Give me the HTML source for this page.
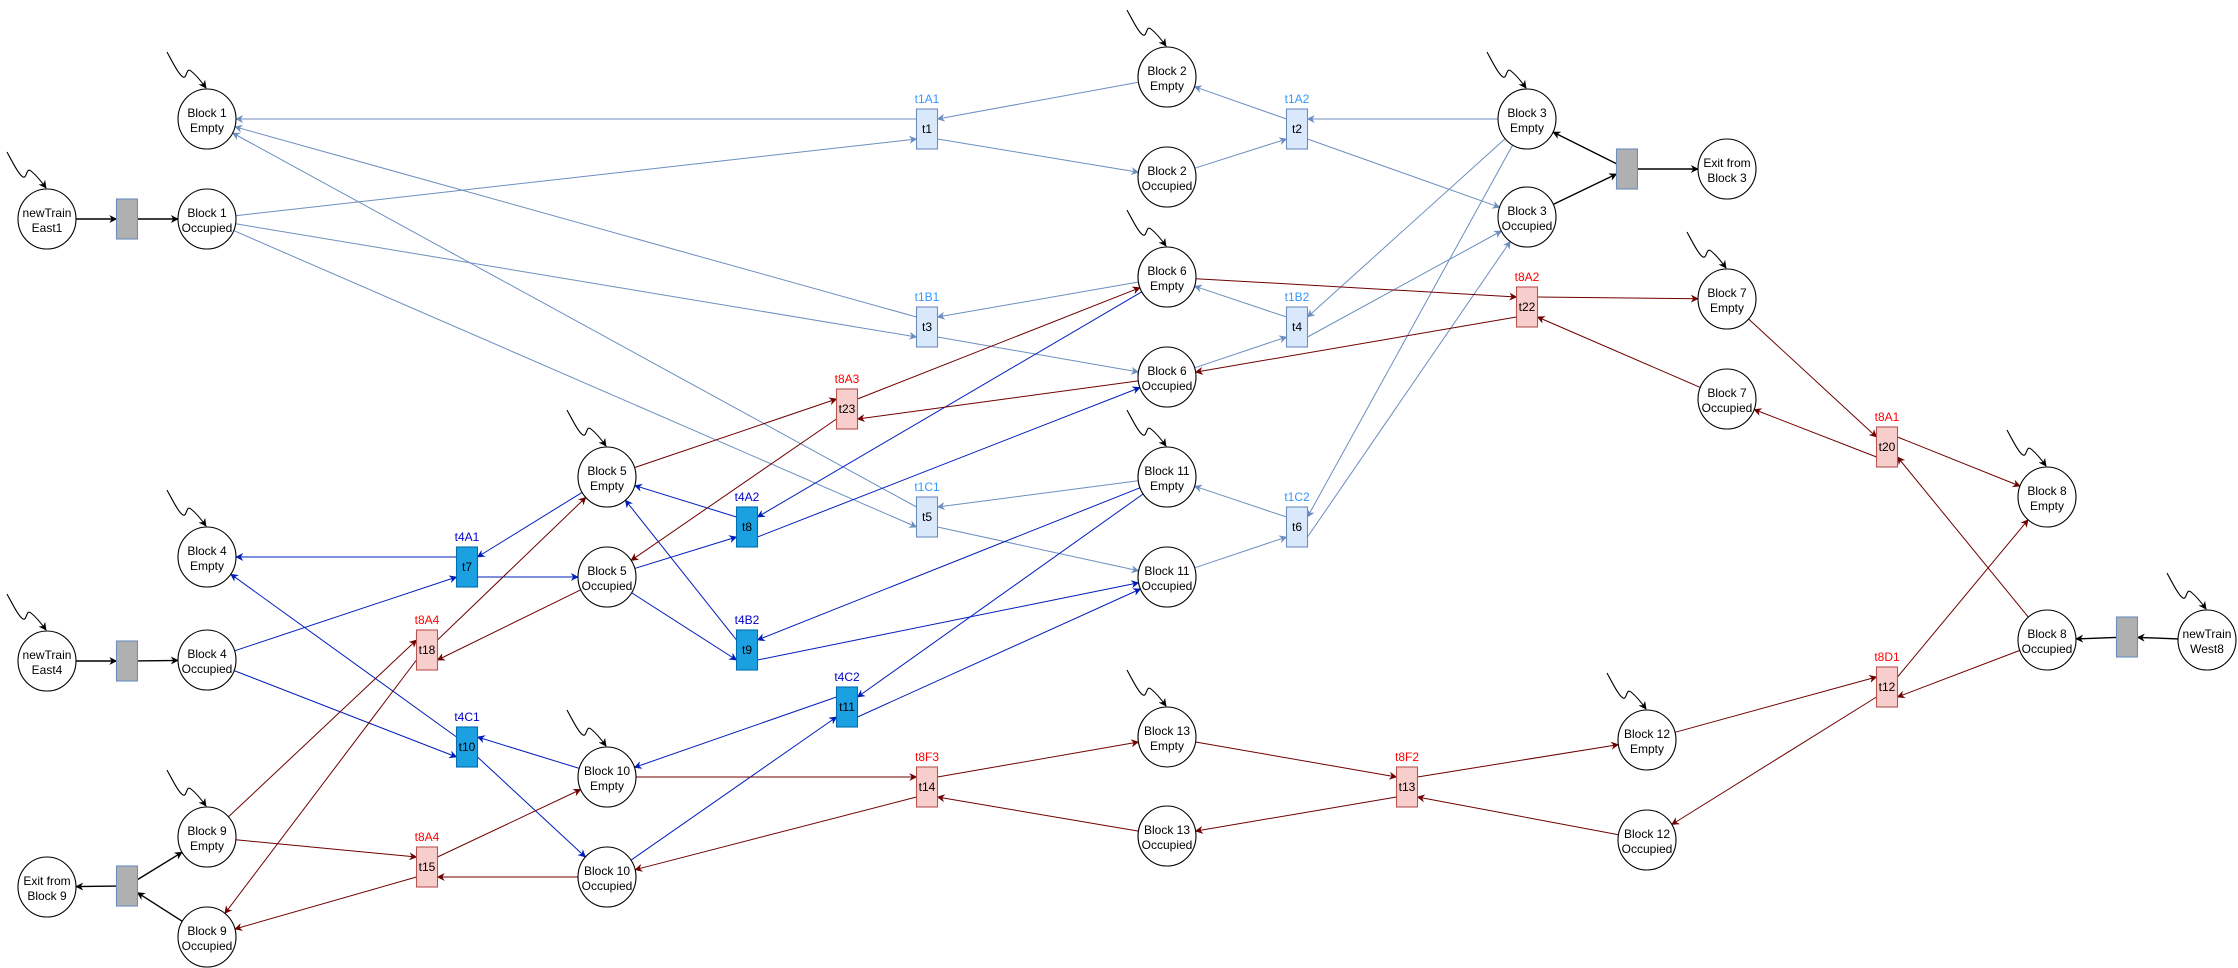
<!DOCTYPE html>
<html><head><meta charset="utf-8"><title>Petri net</title>
<style>
html,body{margin:0;padding:0;background:#fff;}
svg{display:block;font-family:"Liberation Sans",Arial,sans-serif;}
</style></head>
<body>
<svg id="net" width="2238" height="968" viewBox="0 0 2238 968" xmlns="http://www.w3.org/2000/svg">
<defs>
<marker id="m-lb" viewBox="0 0 10 10" refX="9" refY="5" markerWidth="8" markerHeight="8" markerUnits="userSpaceOnUse" orient="auto"><path d="M0,0 L10,5 L0,10 L3,5 z" fill="#6c8ebf"/></marker>
<marker id="m-db" viewBox="0 0 10 10" refX="9" refY="5" markerWidth="8" markerHeight="8" markerUnits="userSpaceOnUse" orient="auto"><path d="M0,0 L10,5 L0,10 L3,5 z" fill="#001dbc"/></marker>
<marker id="m-rd" viewBox="0 0 10 10" refX="9" refY="5" markerWidth="8" markerHeight="8" markerUnits="userSpaceOnUse" orient="auto"><path d="M0,0 L10,5 L0,10 L3,5 z" fill="#6f0000"/></marker>
<marker id="m-bk" viewBox="0 0 10 10" refX="9" refY="5" markerWidth="8" markerHeight="8" markerUnits="userSpaceOnUse" orient="auto"><path d="M0,0 L10,5 L0,10 L3,5 z" fill="#000"/></marker>
</defs>
<g id="edges"></g>
<g id="nodes"></g>
</svg>
<script>
const placeIds = ["b1e","ne1","b1o","b2e","b2o","b3e","b3o","x3","b6e","b6o","b7e","b7o","b8e","b8o","nw8","b5e","b5o","b11e","b11o","b4e","ne4","b4o","b10e","b10o","b9e","b9o","x9","b13e","b13o","b12e","b12o"];
const placeX = [207,47,207,1167,1167,1527,1527,1727,1167,1167,1727,1727,2047,2047,2207,607,607,1167,1167,207,47,207,607,607,207,207,47,1167,1167,1647,1647];
const placeY = [119,219,219,77,177,119,217,169,277,377,299,399,497,640,640,477,577,477,577,557,661,660,777,877,837,937,887,737,836,740,840];
const placeL1 = ["Block 1","newTrain","Block 1","Block 2","Block 2","Block 3","Block 3","Exit from","Block 6","Block 6","Block 7","Block 7","Block 8","Block 8","newTrain","Block 5","Block 5","Block 11","Block 11","Block 4","newTrain","Block 4","Block 10","Block 10","Block 9","Block 9","Exit from","Block 13","Block 13","Block 12","Block 12"];
const placeL2 = ["Empty","East1","Occupied","Empty","Occupied","Empty","Occupied","Block 3","Empty","Occupied","Empty","Occupied","Empty","Occupied","West8","Empty","Occupied","Empty","Occupied","Empty","East4","Occupied","Empty","Occupied","Empty","Occupied","Block 9","Empty","Occupied","Empty","Occupied"];
const placeTok = [1,1,0,1,0,1,0,0,1,0,1,0,1,0,1,1,0,1,0,1,1,0,1,0,1,0,0,1,0,1,0];

const trIds = ["t1","t2","t3","t4","t5","t6","t7","t8","t9","t10","t11","t23","t22","t20","t18","t15","t14","t13","t12","g1","g3","g4","g8","g9"];
const trX = [927,1297,927,1297,927,1297,467,747,747,467,847,847,1527,1887,427,427,927,1407,1887,127,1627,127,2127,127];
const trY = [129,129,327,327,517,527,567,527,650,747,707,409,307,447,650,867,787,787,687,219,169,661,637,886];
const trName = ["t1","t2","t3","t4","t5","t6","t7","t8","t9","t10","t11","t23","t22","t20","t18","t15","t14","t13","t12","","","","",""];
const trLabel = ["t1A1","t1A2","t1B1","t1B2","t1C1","t1C2","t4A1","t4A2","t4B2","t4C1","t4C2","t8A3","t8A2","t8A1","t8A4","t8A4","t8F3","t8F2","t8D1","","","","",""];
const trFam = ["lb","lb","lb","lb","lb","lb","db","db","db","db","db","rd","rd","rd","rd","rd","rd","rd","rd","gy","gy","gy","gy","gy"];

const arcFrom = [
 "t1","b2e","b1o","t1","t2","b2o","b3e","t2",
 "t3","b6e","b1o","t3","t4","b6o","b3e","t4",
 "t5","b11e","b1o","t5","t6","b11o","b3e","t6",
 "t7","b5e","b4o","t7","t8","b6e","b5o","t8",
 "t9","b11e","b5o","t9","t10","b10e","b4o","t10",
 "t11","b11e","b10o","t11",
 "b5e","t23","b6o","t23","b6e","t22","b7o","t22",
 "b7e","t20","b8o","t20","b9e","t18","b5o","t18",
 "b9e","t15","b10o","t15","b10e","t14","b13o","t14",
 "b13e","t13","b12o","t13","b12e","t12","b8o","t12",
 "ne1","g1","b3o","g3","g3","ne4","g4","nw8","g8","b9o","g9","g9"];
const arcTo = [
 "b1e","t1","t1","b2o","b2e","t2","t2","b3o",
 "b1e","t3","t3","b6o","b6e","t4","t4","b3o",
 "b1e","t5","t5","b11o","b11e","t6","t6","b3o",
 "b4e","t7","t7","b5o","b5e","t8","t8","b6o",
 "b5e","t9","t9","b11o","b4e","t10","t10","b10o",
 "b10e","t11","t11","b11o",
 "t23","b6e","t23","b5o","t22","b7e","t22","b6o",
 "t20","b8e","t20","b7o","t18","b5e","t18","b9o",
 "t15","b10e","t15","b9o","t14","b13e","t14","b10o",
 "t13","b12e","t13","b13o","t12","b8e","t12","b12o",
 "g1","b1o","g3","b3e","x3","g4","b4o","g8","b8o","g9","b9e","x9"];

const NS = "http://www.w3.org/2000/svg";
const RX = 29, RY = 30, TW = 21, TH = 40;
const colors = {lb:"#6c8ebf", db:"#001dbc", rd:"#6f0000", gy:"#000"};
const markers = {lb:"url(#m-lb)", db:"url(#m-db)", rd:"url(#m-rd)", gy:"url(#m-bk)"};
const fills = {lb:["#dae8fc","#6c8ebf"], db:["#1ba1e2","#006eaf"], rd:["#f8cecc","#b85450"], gy:["#b0b0b0","#6c8ebf"]};
const labCol = {lb:"#3399ff", db:"#0000cc", rd:"#ff0000", gy:"#000"};

function place(id){const i=placeIds.indexOf(id); return i<0?null:{x:placeX[i],y:placeY[i]};}
function trans(id){const i=trIds.indexOf(id); return i<0?null:{x:trX[i],y:trY[i],f:trFam[i]};}
function el(tag, attrs){const e=document.createElementNS(NS,tag); for(const k in attrs) e.setAttribute(k,attrs[k]); return e;}
function clipEllipse(c, p){const dx=p.x-c.x, dy=p.y-c.y; const t=1/Math.sqrt((dx*dx)/(RX*RX)+(dy*dy)/(RY*RY)); return {x:c.x+dx*t, y:c.y+dy*t};}
function clipRect(c, p){const dx=p.x-c.x, dy=p.y-c.y; const sx=(TW/2)/Math.abs(dx||1e-9), sy=(TH/2)/Math.abs(dy||1e-9); const s=Math.min(sx,sy); return {x:c.x+dx*s,y:c.y+dy*s};}

const eg = document.getElementById("edges");
const ng = document.getElementById("nodes");

for (let k=0;k<arcFrom.length;k++){
  const a=arcFrom[k], b=arcTo[k];
  const ta=trans(a), tb=trans(b);
  const t = ta||tb; const fam=t.f;
  const outOfT = !!ta;
  const tc = t; const other = ta ? place(b) : place(a);
  let port;
  if (fam==="gy"){
    port = clipRect(tc, other);
  } else {
    const left = other.x < tc.x;
    let upper;
    if (fam==="rd") upper = left ? !outOfT : outOfT;
    else upper = left ? outOfT : !outOfT;
    port = {x: tc.x + (left?-TW/2:TW/2), y: tc.y + (upper?-10:10)};
  }
  const pe = clipEllipse(other, port);
  const p1 = outOfT ? port : pe, p2 = outOfT ? pe : port;
  const line = el("line",{x1:p1.x.toFixed(1),y1:p1.y.toFixed(1),x2:p2.x.toFixed(1),y2:p2.y.toFixed(1),stroke:colors[fam],"stroke-width":fam==="gy"?1.4:1,"marker-end":markers[fam]});
  
  
  eg.appendChild(line);
}

for (let i=0;i<placeIds.length;i++){
  const g = el("g",{});
  
  
  const x=placeX[i], y=placeY[i];
  if (placeTok[i]){
    const tok = el("path",{d:`M${x-40},${y-67} C${x-34},${y-56} ${x-28},${y-44} ${x-24},${y-42} C${x-20},${y-40} ${x-21},${y-52} ${x-16},${y-48} C${x-11},${y-44} ${x-6},${y-38} ${x-1},${y-31}`,fill:"none",stroke:"#000","stroke-width":1.1,"marker-end":"url(#m-bk)"});
    
    
    g.appendChild(tok);
  }
  g.appendChild(el("ellipse",{cx:x,cy:y,rx:RX,ry:RY,fill:"#fff",stroke:"#000","stroke-width":1.1}));
  const t1 = el("text",{x:x,y:y-2,"text-anchor":"middle","font-size":12,fill:"#000"}); t1.textContent=placeL1[i];
  const t2 = el("text",{x:x,y:y+13,"text-anchor":"middle","font-size":12,fill:"#000"}); t2.textContent=placeL2[i];
  g.appendChild(t1); g.appendChild(t2);
  ng.appendChild(g);
}

for (let i=0;i<trIds.length;i++){
  const g = el("g",{});
  
  
  const f=trFam[i], x=trX[i], y=trY[i];
  g.appendChild(el("rect",{x:x-TW/2,y:y-TH/2,width:TW,height:TH,fill:fills[f][0],stroke:fills[f][1],"stroke-width":1.1}));
  if (trName[i]){
    const t=el("text",{x:x,y:y+4,"text-anchor":"middle","font-size":12,fill:"#000"}); t.textContent=trName[i]; g.appendChild(t);
    const l=el("text",{x:x,y:y-TH/2-6,"text-anchor":"middle","font-size":12,fill:labCol[f]}); l.textContent=trLabel[i];
    
    
    g.appendChild(l);
  }
  ng.appendChild(g);
}
</script>
</body></html>
